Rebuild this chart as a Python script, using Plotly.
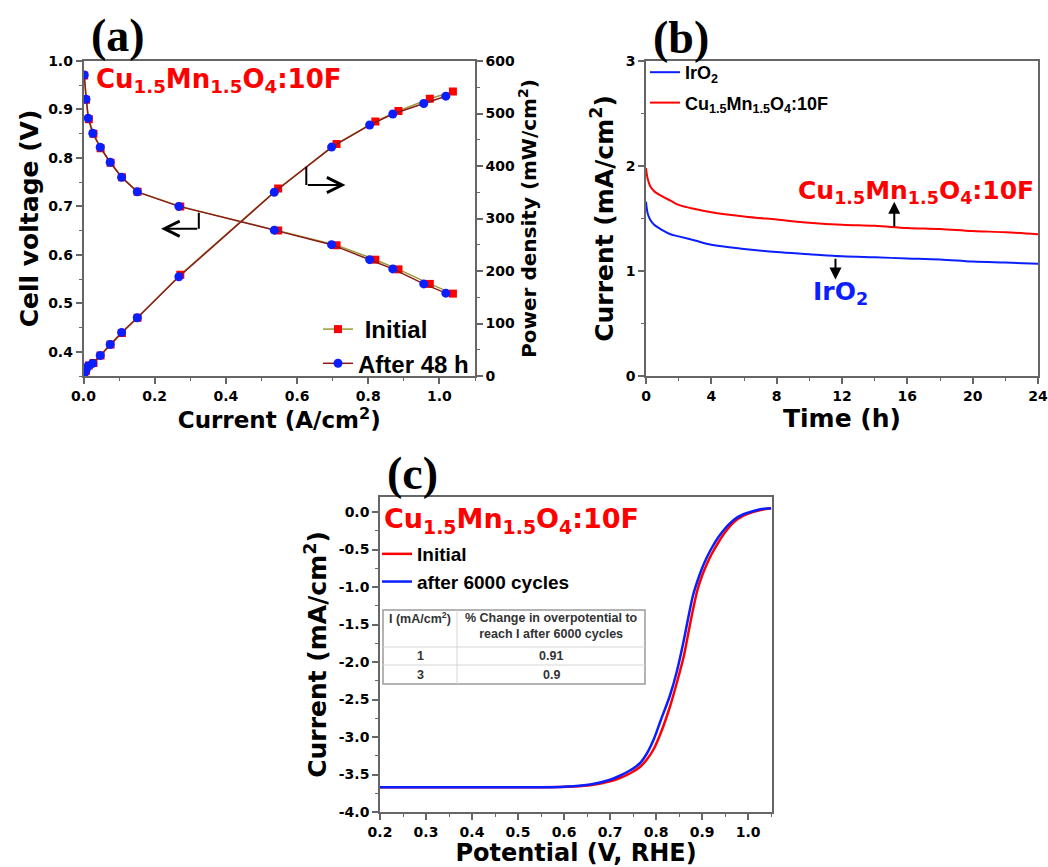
import plotly.graph_objects as go

# ---------------- data ----------------
# (a) fuel-cell polarisation / power curves
a_I_init = [0.002, 0.007, 0.015, 0.028, 0.048, 0.076, 0.108, 0.152, 0.272, 0.547, 0.711, 0.820, 0.885, 0.973, 1.038]
a_V_init = [0.970, 0.920, 0.880, 0.850, 0.820, 0.790, 0.760, 0.730, 0.700, 0.650, 0.620, 0.590, 0.570, 0.540, 0.520]
a_P_init = [4, 10, 20, 25, 39, 60, 82, 111, 193, 357, 442, 485, 505, 528, 542]

a_I_48h = [0.002, 0.007, 0.013, 0.026, 0.047, 0.075, 0.107, 0.151, 0.268, 0.536, 0.697, 0.804, 0.869, 0.956, 1.018]
a_V_48h = [0.971, 0.921, 0.882, 0.851, 0.822, 0.791, 0.760, 0.730, 0.700, 0.651, 0.621, 0.590, 0.571, 0.540, 0.521]
a_P_48h = [5, 11, 19, 24, 39, 60, 83, 111, 189, 350, 436, 478, 499, 519, 533]

# (b) chronoamperometry
b_t = [0, 0.1, 0.25, 0.5, 1, 1.5, 2, 3, 4, 6, 8, 10, 12, 14, 16, 18, 20, 22, 24]
b_IrO2 = [1.66, 1.55, 1.49, 1.44, 1.39, 1.35, 1.33, 1.29, 1.25, 1.21, 1.18, 1.16, 1.14, 1.13, 1.12, 1.11, 1.09, 1.08, 1.07]
b_CuMn = [1.98, 1.88, 1.81, 1.76, 1.71, 1.67, 1.63, 1.59, 1.56, 1.52, 1.49, 1.46, 1.44, 1.43, 1.41, 1.40, 1.38, 1.37, 1.35]

# (c) LSV before / after cycling
c_E = [0.20, 0.40, 0.55, 0.62, 0.66, 0.70, 0.72, 0.745, 0.765, 0.78, 0.795, 0.81, 0.83, 0.845, 0.86,
       0.87, 0.88, 0.89, 0.90, 0.91, 0.92, 0.935, 0.95, 0.97, 0.99, 1.01, 1.03, 1.05]
c_init = [-3.67, -3.67, -3.67, -3.66, -3.64, -3.59, -3.55, -3.48, -3.40, -3.30, -3.16, -2.95, -2.60, -2.28, -1.93,
          -1.62, -1.31, -1.04, -0.85, -0.70, -0.57, -0.41, -0.27, -0.13, -0.05, 0.00, 0.03, 0.05]
c_6000 = [-3.67, -3.67, -3.67, -3.655, -3.63, -3.57, -3.52, -3.44, -3.35, -3.22, -3.03, -2.78, -2.45, -2.13, -1.72,
          -1.41, -1.12, -0.92, -0.75, -0.61, -0.49, -0.34, -0.22, -0.10, -0.03, 0.01, 0.04, 0.05]

# inset table of (c)
table_head = ["I (mA/cm<sup>2</sup>)", "% Change in overpotential to<br>reach I after 6000 cycles"]
table_I = ["1", "3"]
table_change = ["0.91", "0.9"]

# tick labels
c_yticks = [0.0, -0.5, -1.0, -1.5, -2.0, -2.5, -3.0, -3.5, -4.0]
c_yticktext = ["0.0", "-0.5", "-1.0", "-1.5", "-2.0", "-2.5", "-3.0", "-3.5", "-4.0"]

# ---------------- style ----------------
WIDE = "DejaVu Sans, Verdana, sans-serif"
ARIAL = "Liberation Sans, Arial, sans-serif"
SERIF = "Liberation Serif, Times New Roman, serif"
AXC = "#666666"
OLIVE = "#999933"
MAROON = "#8b1a1a"
RED = "#ff0000"
BLUE = "#0a1eff"
CU = "Cu<sub>1.5</sub>Mn<sub>1.5</sub>O<sub>4</sub>:10F"

W, H = 1048, 867
def px(x):
    return x / W
def py(y):
    return 1 - y / H

fig = go.Figure()

# (a)
fig.add_trace(go.Scatter(x=a_I_init, y=a_V_init, mode="lines+markers", name=" Initial",
                         line=dict(color=OLIVE, width=1.5),
                         marker=dict(symbol="square", color=RED, size=8),
                         xaxis="x", yaxis="y", legend="legend", legendgroup="g1"))
fig.add_trace(go.Scatter(x=a_I_init, y=a_P_init, mode="lines+markers", name="Initial",
                         line=dict(color=OLIVE, width=1.5),
                         marker=dict(symbol="square", color=RED, size=8),
                         xaxis="x", yaxis="y2", showlegend=False))
fig.add_trace(go.Scatter(x=a_I_48h, y=a_V_48h, mode="lines+markers", name="After 48 h",
                         line=dict(color=MAROON, width=1.5),
                         marker=dict(symbol="circle", color=BLUE, size=9),
                         xaxis="x", yaxis="y", legend="legend", legendgroup="g2"))
fig.add_trace(go.Scatter(x=a_I_48h, y=a_P_48h, mode="lines+markers", name="After 48 h",
                         line=dict(color=MAROON, width=1.5),
                         marker=dict(symbol="circle", color=BLUE, size=9),
                         xaxis="x", yaxis="y2", showlegend=False))

# (b)
fig.add_trace(go.Scatter(x=b_t, y=b_IrO2, mode="lines", name="IrO<sub>2</sub>",
                         line=dict(color=BLUE, width=2, shape="spline"),
                         xaxis="x2", yaxis="y3", legend="legend2", legendgroup="h1"))
fig.add_trace(go.Scatter(x=b_t, y=b_CuMn, mode="lines", name=CU,
                         line=dict(color=RED, width=2, shape="spline"),
                         xaxis="x2", yaxis="y3", legend="legend2", legendgroup="h2"))

# (c)
fig.add_trace(go.Scatter(x=c_E, y=c_init, mode="lines", name="Initial",
                         line=dict(color=RED, width=2.5, shape="spline", smoothing=0.8),
                         xaxis="x3", yaxis="y4", legend="legend3", legendgroup="k1"))
fig.add_trace(go.Scatter(x=c_E, y=c_6000, mode="lines", name="after 6000 cycles",
                         line=dict(color=BLUE, width=2.5, shape="spline", smoothing=0.8),
                         xaxis="x3", yaxis="y4", legend="legend3", legendgroup="k2"))

tickfont = dict(family=WIDE, size=14, color="black", weight="bold")
def axis(**kw):
    d = dict(showline=True, linecolor=AXC, linewidth=1.5, mirror=True,
             ticks="outside", ticklen=6, tickwidth=1.5, tickcolor=AXC,
             showgrid=False, zeroline=False, tickfont=tickfont, automargin=False,
             ticklabeloverflow="allow")
    d.update(kw)
    return d

def title(text, size=23, standoff=4):
    return dict(text=text, font=dict(family=WIDE, size=size, color="black", weight="bold"), standoff=standoff)

minor = lambda dt: dict(ticks="outside", dtick=dt, ticklen=3, tickwidth=1.2, tickcolor=AXC)

# domains
ax_a = [px(83.5), px(475)]
ay_a = [py(376), py(61)]
ax_b = [px(646), px(1038)]
ax_c = [px(380), px(772)]
ay_c = [py(812), py(497)]

fig.update_layout(
    template="none",
    width=W, height=H,
    margin=dict(l=0, r=0, t=0, b=0, autoexpand=False),
    paper_bgcolor="white", plot_bgcolor="white",
    font=dict(family=ARIAL, color="black"),
    xaxis=axis(domain=ax_a, anchor="y", range=[0, 1.1], dtick=0.2, tick0=0, tickformat=".1f",
               minor=minor(0.1), title=title("Current (A/cm<sup>2</sup>)", 23, 2)),
    yaxis=axis(domain=ay_a, anchor="x", range=[0.35, 1.0], dtick=0.1, tick0=0, tickformat=".1f",
               minor=minor(0.05), title=title("Cell voltage (V)", 25, 2)),
    yaxis2=axis(domain=ay_a, anchor="x", overlaying="y", side="right", range=[0, 600], dtick=100,
                mirror=False, minor=minor(50), title=title("Power density (mW/cm<sup>2</sup>)", 20, 1)),
    xaxis2=axis(domain=ax_b, anchor="y3", range=[0, 24], dtick=4, tick0=0,
                minor=minor(2), title=title("Time (h)", 25, 2)),
    yaxis3=axis(domain=ay_a, anchor="x2", range=[0, 3], dtick=1, tick0=0,
                minor=minor(0.5), title=title("Current (mA/cm<sup>2</sup>)", 25, 5)),
    xaxis3=axis(domain=ax_c, anchor="y4", range=[0.2, 1.052], dtick=0.1, tick0=0.2, tickformat=".1f",
                minor=minor(0.05), title=title("Potential (V, RHE)", 24, 3)),
    yaxis4=axis(domain=ay_c, anchor="x3", range=[-4.0, 0.2], tickvals=c_yticks, ticktext=c_yticktext,
                minor=minor(0.25), title=title("Current (mA/cm<sup>2</sup>)", 25, 5)),
    legend=dict(x=px(318), y=py(307), xanchor="left", yanchor="top", bgcolor="rgba(0,0,0,0)",
                font=dict(family=ARIAL, size=24, color="black", weight="bold"),
                tracegroupgap=0, itemwidth=30),
    legend2=dict(x=px(645), y=py(54), xanchor="left", yanchor="top", bgcolor="rgba(0,0,0,0)",
                 font=dict(family=ARIAL, size=18, color="black", weight="bold"),
                 tracegroupgap=4, itemwidth=30),
    legend3=dict(x=px(377), y=py(535), xanchor="left", yanchor="top", bgcolor="rgba(0,0,0,0)",
                 font=dict(family=ARIAL, size=19, color="black", weight="bold"),
                 tracegroupgap=0, itemwidth=30),
)

def pann(text, x, y, font, xanchor="center", yanchor="middle"):
    return dict(text=text, x=px(x), y=py(y), xref="paper", yref="paper", showarrow=False,
                xanchor=xanchor, yanchor=yanchor, font=font)

ann = []
# panel labels
for t, x, y in [("(a)", 118, 36), ("(b)", 681, 38), ("(c)", 412.5, 473)]:
    ann.append(pann(t, x, y, dict(family=SERIF, size=46, color="black", weight="bold")))
# material labels
ann.append(pann(CU, 94, 80, dict(family=WIDE, size=26, color=RED, weight="bold"), xanchor="left"))
ann.append(pann(CU, 382, 520, dict(family=WIDE, size=27, color=RED, weight="bold"), xanchor="left"))
ann.append(dict(text=CU, x=16.5, y=1.75, xref="x2", yref="y3", showarrow=False,
                xanchor="center", yanchor="middle",
                font=dict(family=WIDE, size=25, color=RED, weight="bold")))
ann.append(dict(text="IrO<sub>2</sub>", x=11.9, y=0.79, xref="x2", yref="y3", showarrow=False,
                xanchor="center", yanchor="middle",
                font=dict(family=WIDE, size=25, color=BLUE, weight="bold")))
# arrows in (b)
ann.append(dict(x=15.2, y=1.66, ax=15.2, ay=1.41, xref="x2", yref="y3", axref="x2", ayref="y3",
                text="", showarrow=True, arrowhead=2, arrowsize=1.2, arrowwidth=2, arrowcolor="black"))
ann.append(dict(x=11.6, y=0.92, ax=11.6, ay=1.13, xref="x2", yref="y3", axref="x2", ayref="y3",
                text="", showarrow=True, arrowhead=2, arrowsize=1.2, arrowwidth=2, arrowcolor="black"))
# L-arrows in (a)
ann.append(dict(x=0.218, y=0.654, ax=0.324, ay=0.654, xref="x", yref="y", axref="x", ayref="y",
                text="", showarrow=True, arrowhead=5, arrowsize=1.5, arrowwidth=2, arrowcolor="black"))
ann.append(dict(x=0.736, y=0.744, ax=0.626, ay=0.744, xref="x", yref="y", axref="x", ayref="y",
                text="", showarrow=True, arrowhead=5, arrowsize=1.5, arrowwidth=2, arrowcolor="black"))

shapes = [
    dict(type="line", x0=0.324, x1=0.324, y0=0.687, y1=0.654, xref="x", yref="y",
         line=dict(color="black", width=2)),
    dict(type="line", x0=0.626, x1=0.626, y0=0.782, y1=0.744, xref="x", yref="y",
         line=dict(color="black", width=2)),
]

# inset table in (c)
tl, tr, tc = 383, 645, 457
tt, th, tm, tb = 610, 647, 665, 684
shapes += [
    dict(type="rect", x0=px(tl), x1=px(tr), y0=py(tb), y1=py(tt), xref="paper", yref="paper",
         line=dict(color="#9a9a9a", width=1.5), fillcolor="white"),
    dict(type="line", x0=px(tc), x1=px(tc), y0=py(tb), y1=py(tt), xref="paper", yref="paper",
         line=dict(color="#d6d6d6", width=1)),
    dict(type="line", x0=px(tl), x1=px(tr), y0=py(th), y1=py(th), xref="paper", yref="paper",
         line=dict(color="#d6d6d6", width=1)),
    dict(type="line", x0=px(tl), x1=px(tr), y0=py(tm), y1=py(tm), xref="paper", yref="paper",
         line=dict(color="#d6d6d6", width=1)),
]
tfont = dict(family=ARIAL, size=12.5, color="#333333", weight="bold")
ann.append(pann(table_head[0], (tl + tc) / 2, 618, tfont))
ann.append(pann(table_head[1], (tc + tr) / 2, 626, tfont))
for i, yy in enumerate([656, 674.5]):
    ann.append(pann(table_I[i], (tl + tc) / 2, yy, tfont))
    ann.append(pann(table_change[i], (tc + tr) / 2, yy, tfont))

fig.update_layout(annotations=ann, shapes=shapes)
fig.write_html("out.html", config={"displayModeBar": False},
               post_script="document.body.style.margin='0px';document.body.style.overflow='hidden';")
